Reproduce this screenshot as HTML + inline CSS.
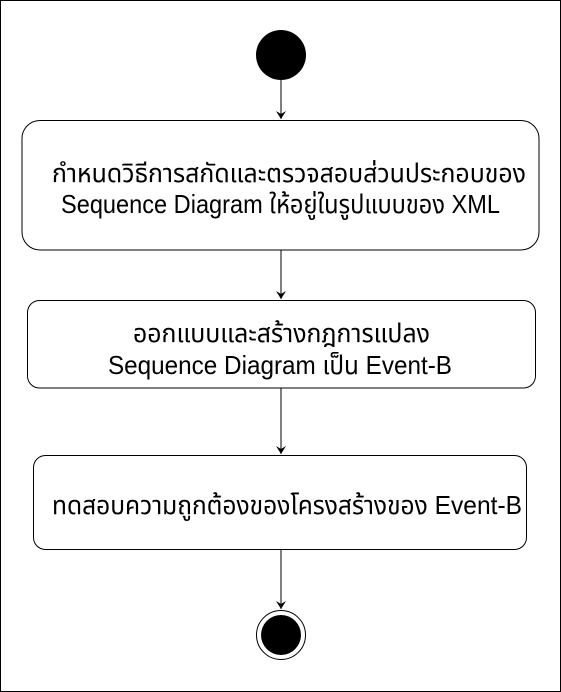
<!DOCTYPE html>
<html><head><meta charset="utf-8"><style>
html,body{margin:0;padding:0;background:#fff}
svg{display:block}
text{font-family:"Liberation Sans","Noto Sans Thai","Garuda","Loma","DejaVu Sans",sans-serif;font-size:26px;fill:#000}
</style></head><body>
<svg width="561" height="692" viewBox="0 0 561 692">
<rect x="0.5" y="0.5" width="560" height="691" fill="#fff" stroke="#000"/>
<circle cx="281" cy="55" r="25" fill="#000"/>
<g stroke="#000" stroke-width="1" fill="none">
<line x1="281" y1="80" x2="281" y2="119"/>
<line x1="281" y1="250" x2="281" y2="299"/>
<line x1="281" y1="388" x2="281" y2="454"/>
<line x1="281" y1="550" x2="281" y2="609"/>
<rect x="22" y="120.5" width="517" height="129.5" rx="18"/>
<rect x="27.5" y="300.5" width="508" height="87.5" rx="12"/>
<rect x="33.5" y="455.5" width="493" height="94" rx="12"/>
</g>
<g fill="#000">
<path d="M276,111 L281,119 L286,111 L281,114 Z"/>
<path d="M276,291 L281,299 L286,291 L281,294 Z"/>
<path d="M276,446 L281,454 L286,446 L281,449 Z"/>
<path d="M276,601 L281,609 L286,601 L281,604 Z"/>
</g>
<circle cx="281" cy="635" r="24.5" fill="#fff" stroke="#000"/>
<circle cx="281" cy="635" r="20" fill="#000"/>
<text x="52" y="182" textLength="474" lengthAdjust="spacingAndGlyphs">กำหนดวิธีการสกัดและตรวจสอบส่วนประกอบของ</text>
<text x="61" y="213" textLength="439" lengthAdjust="spacingAndGlyphs">Sequence Diagram ให้อยู่ในรูปแบบของ XML</text>
<text x="133" y="342" textLength="297" lengthAdjust="spacingAndGlyphs">ออกแบบและสร้างกฎการแปลง</text>
<text x="108" y="374" textLength="344" lengthAdjust="spacingAndGlyphs">Sequence Diagram เป็น Event-B</text>
<text x="52" y="514" textLength="470" lengthAdjust="spacingAndGlyphs">ทดสอบความถูกต้องของโครงสร้างของ Event-B</text>
</svg>
</body></html>
